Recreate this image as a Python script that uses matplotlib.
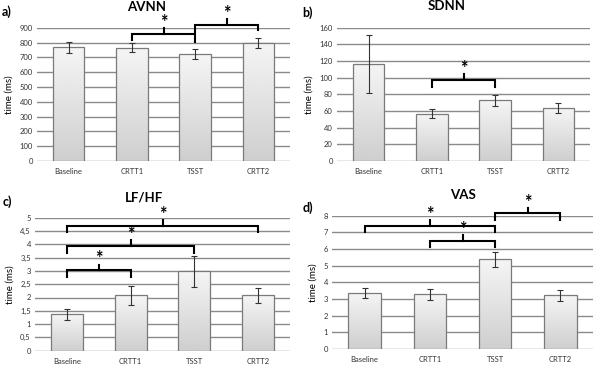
import numpy as np
import matplotlib
matplotlib.use('Agg')
import matplotlib.pyplot as plt
from matplotlib.ticker import FuncFormatter

plt.rcParams['font.family'] = ['Lato', 'DejaVu Sans']

# === DATEN ===
categories = ['Baseline', 'CRTT1', 'TSST', 'CRTT2']

avnn_mean = [767, 765, 720, 798]
avnn_err = [36, 32, 33, 33]

sdnn_mean = [116.5, 57, 73, 64]
sdnn_err = [34.5, 5, 6.5, 6]

lfhf_mean = [1.37, 2.08, 2.98, 2.08]
lfhf_err = [0.2, 0.37, 0.58, 0.27]

vas_mean = [3.38, 3.28, 5.4, 3.22]
vas_err = [0.3, 0.35, 0.45, 0.32]

# Signifikanz-Klammern: (von, bis, Hoehe, linkes Ende, rechtes Ende)
avnn_brackets = [(1, 2, 857, 816, 805), (2, 3, 921, 865, 883)]
sdnn_brackets = [(1, 2, 97.4, 88.6, 88.6)]
lfhf_brackets = [(0, 1, 3.03, 2.77, 2.77), (0, 2, 3.95, 3.68, 3.68), (0, 3, 4.7, 4.47, 4.47)]
vas_brackets = [(0, 2, 7.38, 7.0, 7.0), (1, 2, 6.5, 6.1, 6.1), (2, 3, 8.14, 7.76, 7.76)]

panels = [
    ('a)', 'AVNN', avnn_mean, avnn_err, avnn_brackets, 900, 100),
    ('b)', 'SDNN', sdnn_mean, sdnn_err, sdnn_brackets, 160, 20),
    ('c)', 'LF/HF', lfhf_mean, lfhf_err, lfhf_brackets, 5, 0.5),
    ('d)', 'VAS', vas_mean, vas_err, vas_brackets, 8, 1),
]

# Achsenpositionen in Pixel (links, oben, rechts, unten)
W, H = 600, 369
boxes = [(37, 27.7, 290, 161), (337, 27.7, 590, 161),
         (35, 217.7, 290, 350.7), (332, 215.7, 593, 349)]
title_pos = [(147, 7), (447, 6), (144, 197), (463, 195)]
label_pos = [(2, 12), (302, 13), (3, 202), (303, 208)]

fig = plt.figure(figsize=(W / 100, H / 100), dpi=100)

grad = np.linspace(0.81, 0.96, 100).reshape(-1, 1)

for k, (lab, title, means, errs, brackets, ymax, step) in enumerate(panels):
    l, t, r, b = boxes[k]
    ax = fig.add_axes([l / W, (H - b) / H, (r - l) / W, (b - t) / H])
    x = np.arange(len(categories))

    # Gitterlinien
    for yv in np.arange(0, ymax + step / 2, step):
        ax.axhline(yv, color='#8a8a8a', lw=1.0, zorder=1)

    bars = ax.bar(x, means, width=0.5, facecolor='none', edgecolor='#7a7a7a',
                  lw=0.9, zorder=3)
    for bar in bars:
        x0 = bar.get_x()
        im = ax.imshow(grad, cmap='gray', vmin=0, vmax=1, aspect='auto',
                       origin='lower',
                       extent=[x0, x0 + bar.get_width(), 0, bar.get_height()],
                       zorder=2)
        im.set_clip_path(bar)
    ax.errorbar(x, means, yerr=errs, fmt='none', ecolor='#333333', elinewidth=0.8,
                capsize=2.2, capthick=0.8, zorder=4)

    # Klammern
    tick_h = 0.042 * ymax
    for i, j, yl, yle, yre in brackets:
        ax.plot([i, i, j, j], [yle, yl, yl, yre], color='black', lw=1.5,
                clip_on=False, zorder=5, solid_joinstyle='miter')
        mid = (i + j) / 2
        ax.plot([mid, mid], [yl, yl + tick_h], color='black', lw=1.5,
                clip_on=False, zorder=5)
        ax.text(mid, yl + tick_h * 0.5, '*', ha='center', va='bottom',
                fontsize=13, fontweight='bold', clip_on=False)

    ax.set_xlim(-0.5, len(categories) - 0.5)
    ax.set_ylim(0, ymax)
    ax.set_yticks(np.arange(0, ymax + step / 2, step))
    ax.yaxis.set_major_formatter(FuncFormatter(lambda v, p: ('%g' % v).replace('.', ',')))
    ax.set_xticks(x)
    ax.set_xticklabels(categories)
    ax.tick_params(axis='both', length=0, labelsize=5.5, colors='#333333', pad=3)
    ax.tick_params(axis='x', pad=5)
    for s in ax.spines.values():
        s.set_visible(False)
    ax.set_ylabel('time (ms)', fontsize=7, labelpad=4)

    tx, ty = title_pos[k]
    fig.text(tx / W, 1 - ty / H, title, ha='center', va='center', fontsize=9.5,
             fontweight='bold')
    lx, ly = label_pos[k]
    fig.text(lx / W, 1 - ly / H, lab, ha='left', va='center', fontsize=9,
             fontweight='bold')

plt.savefig('out.png', dpi=100)
